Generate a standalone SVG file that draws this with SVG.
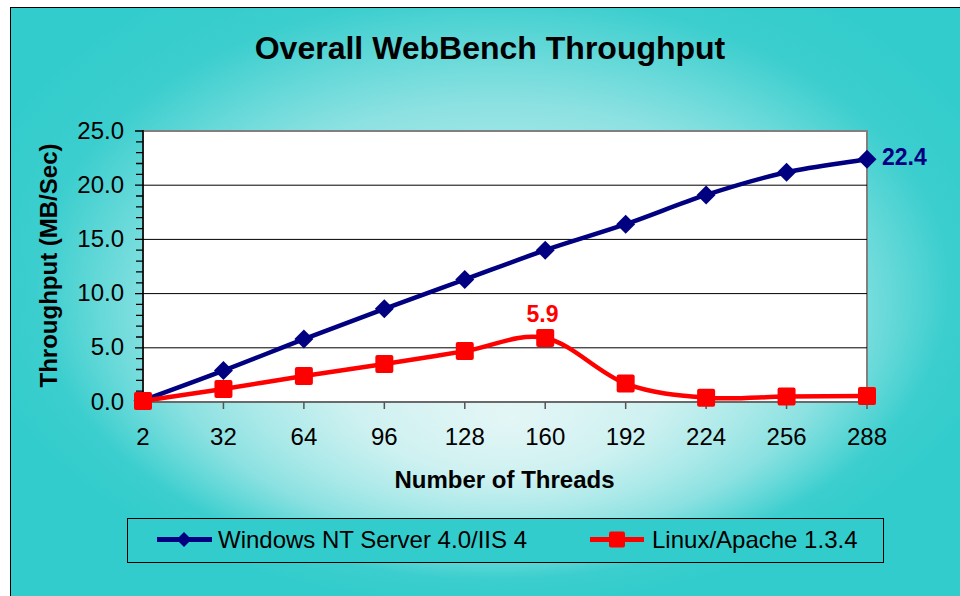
<svg xmlns="http://www.w3.org/2000/svg" width="960" height="596" viewBox="0 0 960 596">
<defs>
<radialGradient id="bg" gradientUnits="userSpaceOnUse" cx="0" cy="0" r="1" fx="0.038" fy="0.456" gradientTransform="translate(490 265) scale(530 340)">
<stop offset="0" stop-color="#e4f6f6"/>
<stop offset="0.3" stop-color="#cff1f1"/>
<stop offset="0.5" stop-color="#abe9e9"/>
<stop offset="0.64" stop-color="#8ce1e1"/>
<stop offset="0.74" stop-color="#68d9d9"/>
<stop offset="0.86" stop-color="#3ccece"/>
<stop offset="1" stop-color="#33cccc"/>
</radialGradient>
<path id="dia" d="M0,-9.5 L9.5,0 L0,9.5 L-9.5,0 Z" fill="#000080"/>
<rect id="sq" x="-9" y="-9" width="18" height="18" rx="2" fill="#ff0000"/>
</defs>
<style>
text{font-family:"Liberation Sans",Arial,sans-serif;fill:#000}
.tk{font-size:24px}
.yl{text-anchor:end}
.xl{text-anchor:middle}
.b{font-weight:bold}
.grid{stroke:#000;stroke-width:1}
.ytick{stroke:#000;stroke-width:1.3}
.xtick{stroke:#555;stroke-width:1.5}
.win{fill:none;stroke:#000080;stroke-width:4.5;stroke-linejoin:round}
.lin{fill:none;stroke:#ff0000;stroke-width:4.5;stroke-linejoin:round}
</style>
<rect x="0" y="0" width="960" height="596" fill="#fff"/>
<rect id="chartArea" x="10.5" y="7.5" width="960" height="600" fill="url(#bg)" stroke="#000" stroke-width="1"/>
<g id="title"><text x="490" y="59" class="b" style="font-size:32px" text-anchor="middle">Overall WebBench Throughput</text></g>
<g id="plotArea">
<rect x="143" y="131" width="724" height="271" fill="#fff" stroke="#808080" stroke-width="2"/>
<line class="grid" x1="143" y1="185.2" x2="867" y2="185.2"/>
<line class="grid" x1="143" y1="239.4" x2="867" y2="239.4"/>
<line class="grid" x1="143" y1="293.6" x2="867" y2="293.6"/>
<line class="grid" x1="143" y1="347.8" x2="867" y2="347.8"/>
<line x1="143" y1="130" x2="143" y2="403" stroke="#000" stroke-width="1.5"/>
<line x1="143" y1="402" x2="868" y2="402" stroke="#6a6a6a" stroke-width="2"/>
</g>
<g id="yAxis">
<path class="ytick" d="M135,131H143M136,141.8H143M136,152.7H143M136,163.5H143M136,174.4H143M135,185.2H143M136,196H143M136,206.9H143M136,217.7H143M136,228.6H143M135,239.4H143M136,250.2H143M136,261.1H143M136,271.9H143M136,282.8H143M135,293.6H143M136,304.4H143M136,315.3H143M136,326.1H143M136,337H143M135,347.8H143M136,358.6H143M136,369.5H143M136,380.3H143M136,391.2H143M135,402H143"/>
<text class="tk yl" x="124" y="138.5">25.0</text>
<text class="tk yl" x="124" y="192.7">20.0</text>
<text class="tk yl" x="124" y="246.9">15.0</text>
<text class="tk yl" x="124" y="301.1">10.0</text>
<text class="tk yl" x="124" y="355.3">5.0</text>
<text class="tk yl" x="124" y="409.5">0.0</text>
<text class="b" style="font-size:24px" text-anchor="middle" transform="translate(57 265.5) rotate(-90)">Throughput (MB/Sec)</text>
</g>
<g id="xAxis">
<path class="xtick" d="M143,402V409M223.44,402V409M303.89,402V409M384.33,402V409M464.78,402V409M545.22,402V409M625.67,402V409M706.11,402V409M786.56,402V409M867,402V409"/>
<text class="tk xl" x="143" y="445">2</text>
<text class="tk xl" x="223.44" y="445">32</text>
<text class="tk xl" x="303.89" y="445">64</text>
<text class="tk xl" x="384.33" y="445">96</text>
<text class="tk xl" x="464.78" y="445">128</text>
<text class="tk xl" x="545.22" y="445">160</text>
<text class="tk xl" x="625.67" y="445">192</text>
<text class="tk xl" x="706.11" y="445">224</text>
<text class="tk xl" x="786.56" y="445">256</text>
<text class="tk xl" x="867" y="445">288</text>
<text class="b" style="font-size:24px" x="504.5" y="488" text-anchor="middle">Number of Threads</text>
</g>
<g id="connectors">
<path id="seriesWindows" class="win" d="M143,400.4 C169.81,390.47 196.63,380.82 223.44,370.6 C250.25,360.38 277.08,349.4 303.89,339.1 C330.7,328.8 357.52,318.73 384.33,308.8 C411.14,298.87 437.97,289.27 464.78,279.5 C491.59,269.73 518.41,259.42 545.22,250.2 C572.03,240.98 598.86,233.42 625.67,224.2 C652.48,214.98 679.3,203.57 706.11,194.9 C732.92,186.23 759.75,178.15 786.56,172.2 C813.37,166.25 840.19,163.53 867,159.2"/>
</g>
<g id="windowsMarkers">
<use href="#dia" x="143" y="400.4"/>
<use href="#dia" x="223.44" y="370.6"/>
<use href="#dia" x="303.89" y="339.1"/>
<use href="#dia" x="384.33" y="308.8"/>
<use href="#dia" x="464.78" y="279.5"/>
<use href="#dia" x="545.22" y="250.2"/>
<use href="#dia" x="625.67" y="224.2"/>
<use href="#dia" x="706.11" y="194.9"/>
<use href="#dia" x="786.56" y="172.2"/>
<use href="#dia" x="867" y="159.2"/>
</g>
<g id="connectors2">
<path id="seriesLinux" class="lin" d="M143,400.9 C169.81,396.93 196.63,393.15 223.44,389 C250.25,384.85 277.08,380.15 303.89,376 C330.7,371.85 357.52,368.25 384.33,364.1 C411.14,359.95 437.97,355.45 464.78,351.1 C491.59,346.75 518.41,332.58 545.22,338 C572.03,343.42 598.86,373.65 625.67,383.6 C652.48,393.55 679.3,395.53 706.11,397.7 C732.92,399.87 759.75,396.88 786.56,396.6 C813.37,396.32 840.19,396.2 867,396"/>
</g>
<g id="linuxMarkers">
<use href="#sq" x="143" y="400.9"/>
<use href="#sq" x="223.44" y="389"/>
<use href="#sq" x="303.89" y="376"/>
<use href="#sq" x="384.33" y="364.1"/>
<use href="#sq" x="464.78" y="351.1"/>
<use href="#sq" x="545.22" y="338"/>
<use href="#sq" x="625.67" y="383.6"/>
<use href="#sq" x="706.11" y="397.7"/>
<use href="#sq" x="786.56" y="396.6"/>
<use href="#sq" x="867" y="396"/>
</g>
<g id="labelWindows"><text class="b" x="882" y="165" style="font-size:23px;fill:#000080">22.4</text></g>
<g id="labelLinux"><text class="b" x="542.5" y="322" text-anchor="middle" style="font-size:23px;fill:#ff0000">5.9</text></g>
<g id="legend">
<rect x="127.5" y="518.5" width="756" height="44" fill="#33cccc" stroke="#000" stroke-width="1"/>
<line x1="157" y1="539.5" x2="212" y2="539.5" stroke="#000080" stroke-width="5"/>
<path d="M184,532 L191.5,539.5 L184,547 L176.5,539.5 Z" fill="#000080"/>
<text class="tk" x="218" y="548">Windows NT Server 4.0/IIS 4</text>
<line x1="590" y1="539.5" x2="644" y2="539.5" stroke="#ff0000" stroke-width="5"/>
<rect x="609" y="531.5" width="16" height="16" rx="2" fill="#ff0000"/>
<text class="tk" x="652" y="548">Linux/Apache 1.3.4</text>
</g>
</svg>
